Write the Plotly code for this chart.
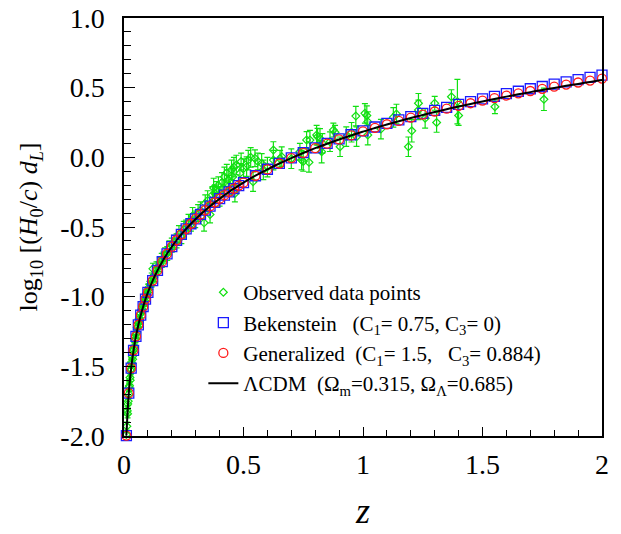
import plotly.graph_objects as go

# ---------------- data ----------------
# model grid (redshift)
model_z = [0.01, 0.02, 0.03, 0.04, 0.05, 0.06, 0.07, 0.08, 0.09, 0.10,
           0.12, 0.14, 0.16, 0.18, 0.20, 0.22, 0.24, 0.26, 0.28, 0.30,
           0.32, 0.34, 0.36, 0.38, 0.40, 0.42, 0.44, 0.46, 0.48, 0.50,
           0.55, 0.60, 0.65, 0.70, 0.75, 0.80, 0.85, 0.90, 0.95, 1.00,
           1.05, 1.10, 1.15, 1.20, 1.25, 1.30, 1.35, 1.40, 1.45, 1.50,
           1.55, 1.60, 1.65, 1.70, 1.75, 1.80, 1.85, 1.90, 1.95, 2.00]

lcdm_y = [-1.9967, -1.6924, -1.5132, -1.3851, -1.2850, -1.2028, -1.1329, -1.0719, -1.0178, -0.9692,
          -0.8844, -0.8119, -0.7486, -0.6923, -0.6415, -0.5952, -0.5527, -0.5133, -0.4767, -0.4423,
          -0.4098, -0.3793, -0.3504, -0.3230, -0.2968, -0.2718, -0.2479, -0.2250, -0.2029, -0.1817,
          -0.1321, -0.0865, -0.0444, -0.0053, 0.0313, 0.0656, 0.0978, 0.1283, 0.1572, 0.1846,
          0.2107, 0.2355, 0.2593, 0.2821, 0.3039, 0.3249, 0.3451, 0.3645, 0.3833, 0.4014,
          0.4188, 0.4358, 0.4522, 0.4681, 0.4835, 0.4984, 0.5130, 0.5271, 0.5409, 0.5543]

bek_y = [-1.9967, -1.6924, -1.5132, -1.3851, -1.2850, -1.2028, -1.1329, -1.0719, -1.0178, -0.9692,
         -0.8844, -0.8119, -0.7486, -0.6923, -0.6415, -0.5952, -0.5527, -0.5133, -0.4767, -0.4423,
         -0.4098, -0.3793, -0.3504, -0.3230, -0.2968, -0.2718, -0.2479, -0.2250, -0.2029, -0.1817,
         -0.1321, -0.0855, -0.0434, -0.0033, 0.0333, 0.0686, 0.1008, 0.1323, 0.1622, 0.1906,
         0.2177, 0.2435, 0.2683, 0.2921, 0.3149, 0.3369, 0.3591, 0.3795, 0.3993, 0.4194,
         0.4378, 0.4568, 0.4742, 0.4921, 0.5085, 0.5254, 0.5420, 0.5581, 0.5739, 0.5893]

gen_y = [-1.9967, -1.6924, -1.5132, -1.3851, -1.2850, -1.2028, -1.1329, -1.0719, -1.0178, -0.9692,
         -0.8844, -0.8119, -0.7486, -0.6923, -0.6415, -0.5952, -0.5527, -0.5133, -0.4767, -0.4423,
         -0.4098, -0.3793, -0.3504, -0.3230, -0.2968, -0.2718, -0.2479, -0.2250, -0.2029, -0.1817,
         -0.1321, -0.0865, -0.0444, -0.0053, 0.0313, 0.0656, 0.0978, 0.1283, 0.1572, 0.1856,
         0.2117, 0.2375, 0.2613, 0.2851, 0.3069, 0.3289, 0.3491, 0.3695, 0.3883, 0.4074,
         0.4248, 0.4428, 0.4592, 0.4761, 0.4915, 0.5074, 0.5220, 0.5371, 0.5509, 0.5653]

# observed data points
obs_z = [0.010, 0.012, 0.014, 0.015, 0.016, 0.018, 0.020, 0.021, 0.023, 0.025,
         0.026, 0.028, 0.030, 0.031, 0.033, 0.035, 0.036, 0.038, 0.040, 0.043,
         0.045, 0.048, 0.050, 0.053, 0.055, 0.058, 0.060, 0.063, 0.066, 0.070,
         0.073, 0.076, 0.080, 0.083, 0.087, 0.090, 0.094, 0.098,
         0.101, 0.106, 0.110, 0.116, 0.121, 0.125, 0.130, 0.136, 0.143, 0.150,
         0.158, 0.165, 0.172, 0.181, 0.190, 0.200, 0.210, 0.220, 0.230, 0.240,
         0.250, 0.260, 0.270, 0.280, 0.287, 0.298, 0.310, 0.320, 0.335, 0.340,
         0.350, 0.360, 0.370, 0.375, 0.380, 0.388, 0.395, 0.400, 0.410, 0.415,
         0.420, 0.430, 0.436, 0.440, 0.450, 0.455, 0.460, 0.464, 0.470, 0.485,
         0.490, 0.500, 0.513, 0.520, 0.530, 0.540, 0.548, 0.560, 0.576, 0.583,
         0.600, 0.625, 0.625, 0.653, 0.660, 0.700, 0.736, 0.743, 0.750, 0.764,
         0.774, 0.778, 0.806, 0.810, 0.820, 0.827, 0.830, 0.862, 0.876, 0.883,
         0.904, 0.930, 0.952, 0.970, 0.973, 1.008, 1.016, 1.020, 1.020, 1.075,
         1.127, 1.140, 1.190, 1.204, 1.232, 1.232, 1.260, 1.300, 1.308, 1.370,
         1.395, 1.400, 1.552, 1.757]

obs_y = [-1.99, -1.93, -1.82, -1.84, -1.77, -1.75, -1.70, -1.65, -1.64, -1.58,
         -1.60, -1.53, -1.52, -1.47, -1.48, -1.43, -1.45, -1.39, -1.38, -1.36,
         -1.31, -1.30, -1.27, -1.26, -1.22, -1.22, -1.19, -1.16, -1.17, -1.12,
         -1.10, -1.09, -1.06, -1.04, -1.03, -1.00, -0.98, -0.97,
         -0.95, -0.93, -0.91, -0.88, -0.80, -0.86, -0.84, -0.80, -0.79, -0.77,
         -0.74, -0.72, -0.70, -0.69, -0.65, -0.63, -0.61, -0.60, -0.55, -0.57,
         -0.52, -0.50, -0.47, -0.48, -0.42, -0.445, -0.40, -0.38, -0.47, -0.33,
         -0.31, -0.41, -0.27, -0.22, -0.26, -0.235, -0.20, -0.28, -0.18, -0.22,
         -0.14, -0.11, -0.16, -0.20, -0.09, -0.14, -0.07, -0.26, -0.055, -0.115,
         -0.03, -0.08, -0.067, -0.02, 0.00, -0.175, -0.007, -0.03, -0.043, -0.09,
         -0.07, 0.052, -0.02, -0.01, 0.005, -0.01, 0.04, -0.02, -0.03, 0.125,
         -0.036, 0.124, 0.16, 0.148, 0.136, 0.04, 0.10, 0.112, 0.196, 0.18,
         0.076, 0.148, 0.18, 0.296, 0.148, 0.316, 0.30, 0.256, 0.16, 0.203,
         0.287, 0.311, 0.076, 0.19, 0.388, 0.34, 0.28, 0.388, 0.25, 0.435,
         0.40, 0.30, 0.363, 0.416]

obs_err = [0.03, 0.03, 0.03, 0.03, 0.03, 0.03, 0.03, 0.03, 0.03, 0.03,
           0.03, 0.03, 0.03, 0.03, 0.03, 0.03, 0.03, 0.03, 0.03, 0.03,
           0.03, 0.03, 0.03, 0.03, 0.03, 0.03, 0.03, 0.03, 0.03, 0.03,
           0.03, 0.03, 0.03, 0.03, 0.03, 0.03, 0.03, 0.03,
           0.04, 0.04, 0.04, 0.05, 0.04, 0.04, 0.05, 0.05, 0.04, 0.05,
           0.05, 0.04, 0.05, 0.05, 0.05, 0.05, 0.05, 0.05, 0.06, 0.05,
           0.06, 0.05, 0.06, 0.05, 0.06, 0.06, 0.06, 0.06, 0.06, 0.06,
           0.07, 0.06, 0.06, 0.07, 0.06, 0.06, 0.06, 0.07, 0.07, 0.06,
           0.07, 0.06, 0.07, 0.07, 0.07, 0.06, 0.07, 0.06, 0.07, 0.07,
           0.06, 0.07, 0.07, 0.07, 0.07, 0.07, 0.06, 0.06, 0.07, 0.07,
           0.07, 0.06, 0.07, 0.06, 0.07, 0.07, 0.06, 0.07, 0.07, 0.06,
           0.07, 0.07, 0.07, 0.06, 0.07, 0.08, 0.07, 0.07, 0.05, 0.05,
           0.07, 0.07, 0.07, 0.07, 0.07, 0.07, 0.07, 0.07, 0.07, 0.07,
           0.07, 0.07, 0.07, 0.08, 0.07, 0.07, 0.07, 0.05, 0.07, 0.05,
           0.16, 0.07, 0.05, 0.08]

x_tickvals = [0, 0.5, 1, 1.5, 2]
x_ticktext = ["0", "0.5", "1", "1.5", "2"]
y_tickvals = [-2.0, -1.5, -1.0, -0.5, 0.0, 0.5, 1.0]
y_ticktext = ["-2.0", "-1.5", "-1.0", "-0.5", "0.0", "0.5", "1.0"]

NB = "\u00a0"
name_obs = "Observed data points"
name_bek = "Bekenstein" + NB * 3 + "(C<sub>1</sub>= 0.75, C<sub>3</sub>= 0)"
name_gen = "Generalized" + NB * 2 + "(C<sub>1</sub>= 1.5," + NB * 3 + "C<sub>3</sub>= 0.884)"
name_lcdm = "\u039bCDM" + NB * 2 + "(\u03a9<sub>m</sub>=0.315, \u03a9<sub>\u039b</sub>=0.685)"

FONT = "Liberation Serif"

fig = go.Figure()

fig.add_trace(go.Scatter(
    x=obs_z, y=obs_y, mode="markers", name=name_obs,
    marker=dict(symbol="diamond-open", size=6, color="#11e011", line=dict(width=1.2)),
    error_y=dict(type="data", array=obs_err, visible=True, color="#11e011",
                 thickness=1.2, width=3),
    cliponaxis=False,
))
fig.add_trace(go.Scatter(
    x=model_z, y=bek_y, mode="markers", name=name_bek,
    marker=dict(symbol="square-open", size=10, color="#1a1aff", line=dict(width=1.3)),
    cliponaxis=False,
))
fig.add_trace(go.Scatter(
    x=model_z, y=gen_y, mode="markers", name=name_gen,
    marker=dict(symbol="circle-open", size=9, color="#ff1a1a", line=dict(width=1.3)),
    cliponaxis=False,
))
fig.add_trace(go.Scatter(
    x=model_z, y=lcdm_y, mode="lines", name=name_lcdm,
    line=dict(color="black", width=2, shape="spline"),
))

fig.update_layout(
    width=621, height=534,
    margin=dict(l=124, r=19, t=18, b=98),
    paper_bgcolor="white", plot_bgcolor="white",
    font=dict(family=FONT, size=28, color="black"),
    showlegend=True,
    legend=dict(x=0.166, y=0.392, xanchor="left", yanchor="top",
                bgcolor="rgba(0,0,0,0)", borderwidth=0,
                font=dict(family=FONT, size=21, color="black"),
                tracegroupgap=0, itemwidth=30),
    xaxis=dict(range=[0, 2], tickmode="array", tickvals=x_tickvals, ticktext=x_ticktext,
               ticks="inside", ticklen=9, tickwidth=1, tickcolor="black",
               minor=dict(tickmode="linear", tick0=0, dtick=0.1, ticks="inside",
                          ticklen=6, tickwidth=1, tickcolor="black"),
               showline=True, linewidth=1.5, linecolor="black", mirror=True,
               showgrid=False, zeroline=False, automargin=False,
               ticklabeloverflow="allow",
               tickfont=dict(family=FONT, size=28),
               ticklabelstandoff=3,
               title=dict(text="<i>z</i>", font=dict(family=FONT, size=36), standoff=18)),
    yaxis=dict(range=[-2, 1], tickmode="array", tickvals=y_tickvals, ticktext=y_ticktext,
               ticks="inside", ticklen=11, tickwidth=1, tickcolor="black",
               minor=dict(tickmode="linear", tick0=0, dtick=0.1, ticks="inside",
                          ticklen=7, tickwidth=1, tickcolor="black"),
               showline=True, linewidth=1.5, linecolor="black", mirror=True,
               showgrid=False, zeroline=False, automargin=False,
               ticklabeloverflow="allow",
               tickfont=dict(family=FONT, size=28),
               ticklabelstandoff=12,
               title=dict(text="log<sub>10</sub> [(<i>H</i><sub>0</sub>/<i>c</i>) <i>d<sub>L</sub></i>]",
                          font=dict(family=FONT, size=26), standoff=15)),
)

fig.write_html("out.html",
               config={"displayModeBar": False},
               post_script="document.body.style.margin='0';document.body.style.overflow='hidden';")
